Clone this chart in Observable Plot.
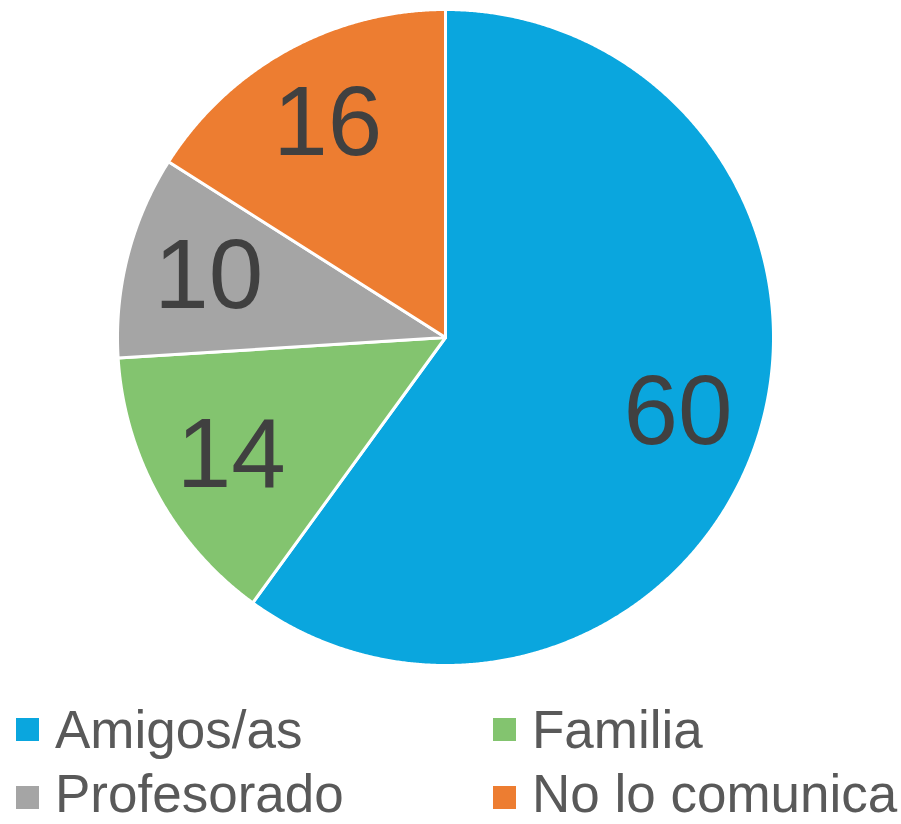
<!DOCTYPE html>
<html>
<head>
<meta charset="utf-8">
<script src="https://cdn.jsdelivr.net/npm/d3@7"></script>
<script src="https://cdn.jsdelivr.net/npm/@observablehq/plot@0.6"></script>
<style>
  html, body { margin: 0; padding: 0; background: #fff; }
  body { width: 901px; height: 824px; position: relative; font-family: "Liberation Sans", Arial, sans-serif; overflow: hidden; }
  #chart { position: absolute; left: 0; top: 0; }
  .leg { position: absolute; font-size: 53px; line-height: 44px; color: #595959; white-space: nowrap; }
  .sw { position: absolute; width: 23px; height: 23px; }
</style>
</head>
<body>
<div id="chart"></div>
<div id="legend"></div>
<script>
const categories = ["Amigos/as", "Familia", "Profesorado", "No lo comunica"];
const values = [60, 14, 10, 16];
const colors = ["#0AA6DE", "#83C46F", "#A5A5A5", "#ED7D31"];

const data = categories.map((c, i) => ({category: c, value: values[i]}));
const arcs = d3.pie().sort(null).value(d => d.value)(data);

const R = 1;
const step = Math.PI / 720;
const slices = arcs.map(a => {
  const ring = [[0, 0]];
  const n = Math.max(2, Math.ceil((a.endAngle - a.startAngle) / step));
  for (let k = 0; k <= n; k++) {
    const t = a.startAngle + (a.endAngle - a.startAngle) * k / n;
    ring.push([R * Math.sin(t), -R * Math.cos(t)]);
  }
  ring.push([0, 0]);
  return {type: "Feature", properties: {category: a.data.category}, geometry: {type: "Polygon", coordinates: [ring]}};
});

const outline = {type: "Polygon", coordinates: [d3.range(0, 361, 2).map(d => {
  const t = d * Math.PI / 180; return [Math.sin(t), -Math.cos(t)];
})]};

const labelR = 0.745;
const labels = arcs.map(a => {
  const m = (a.startAngle + a.endAngle) / 2;
  return {x: labelR * Math.sin(m), y: -labelR * Math.cos(m), text: String(a.data.value)};
});

const chart = Plot.plot({
  width: 901,
  height: 675,
  marginLeft: 117,
  marginRight: 128,
  marginTop: 9,
  marginBottom: 10,
  projection: {type: "identity", domain: outline},
  color: {domain: categories, range: colors},
  style: {fontFamily: "'Liberation Sans', Arial, sans-serif", background: "white"},
  marks: [
    Plot.geo(slices, {fill: d => d.properties.category, stroke: "white", strokeWidth: 3}),
    Plot.text(labels, {x: "x", y: "y", text: "text", fontSize: 98, fill: "#404040", textAnchor: "middle"})
  ]
});
document.getElementById("chart").appendChild(chart);

// Legend
const legend = document.getElementById("legend");
const pos = [
  {sx: 16, sy: 718, tx: 55, ty: 708},
  {sx: 493, sy: 718, tx: 532, ty: 708},
  {sx: 16, sy: 786, tx: 55, ty: 772},
  {sx: 493, sy: 786, tx: 532, ty: 772}
];
categories.forEach((c, i) => {
  const sw = document.createElement("div");
  sw.className = "sw";
  sw.style.left = pos[i].sx + "px";
  sw.style.top = pos[i].sy + "px";
  sw.style.background = colors[i];
  legend.appendChild(sw);
  const t = document.createElement("div");
  t.className = "leg";
  t.style.left = pos[i].tx + "px";
  t.style.top = pos[i].ty + "px";
  t.textContent = c;
  legend.appendChild(t);
});
</script>
</body>
</html>
